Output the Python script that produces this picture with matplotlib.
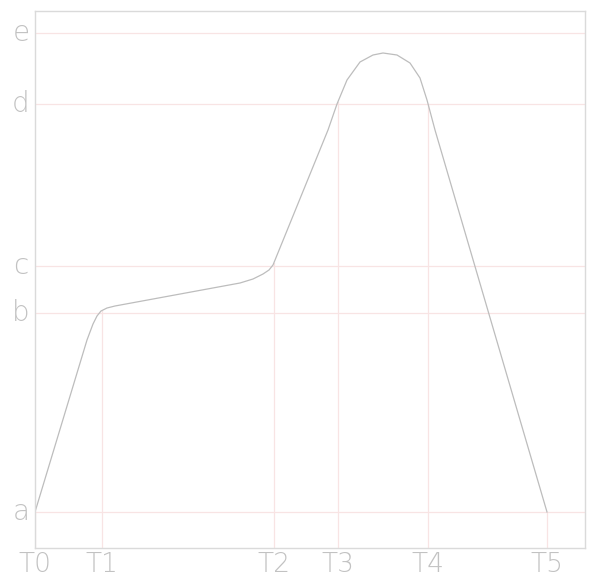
import numpy as np
import matplotlib.pyplot as plt

# key time positions and levels
t_labels = ['T0', 'T1', 'T2', 'T3', 'T4', 'T5']
t_pos = [0, 67, 239, 303, 393, 512]
y_labels = ['a', 'b', 'c', 'd', 'e']
y_pos = [0, 199, 246, 408, 479]

# curve
curve_x = [0, 52, 58, 62, 66, 72, 80, 205, 218, 228, 234, 238,
           293, 302, 312, 325, 338, 348, 362, 375, 385, 392, 400, 512]
curve_y = [0, 172, 188, 196, 201, 204, 206, 229, 233, 238, 242, 247,
           382, 408, 432, 450, 457, 459, 457, 449, 434, 412, 382, 0]

line_col = '#bdbdbd'
grid_col = '#f8e4e4'
text_col = '#c2c2c2'

fig = plt.figure(figsize=(5.95, 5.80), dpi=100)
ax = fig.add_axes([35 / 595, 32 / 580, 550 / 595, 537 / 580])
ax.set_xlim(0, 550)
ax.set_ylim(-36, 501)

for y in y_pos:
    ax.axhline(y, color=grid_col, lw=0.9)
for t in t_pos:
    top = np.interp(t, curve_x, curve_y)
    ax.plot([t, t], [-36, top], color=grid_col, lw=0.9)

ax.plot(curve_x, curve_y, color=line_col, lw=0.9)

ax.set_xticks([])
ax.set_yticks([])
for s in ax.spines.values():
    s.set_color('#dadada')
    s.set_linewidth(1)

for lab, t in zip(t_labels, t_pos):
    ax.text(t, -53, lab, ha='center', va='center', fontsize=19, color=text_col,
            fontweight='light', family='DejaVu Sans', clip_on=False)
for lab, y in zip(y_labels, y_pos):
    ax.text(-14, y, lab, ha='center', va='center', fontsize=20, color=text_col,
            fontweight='light', family='DejaVu Sans', clip_on=False)

fig.savefig('out.png', dpi=100, facecolor='white')
